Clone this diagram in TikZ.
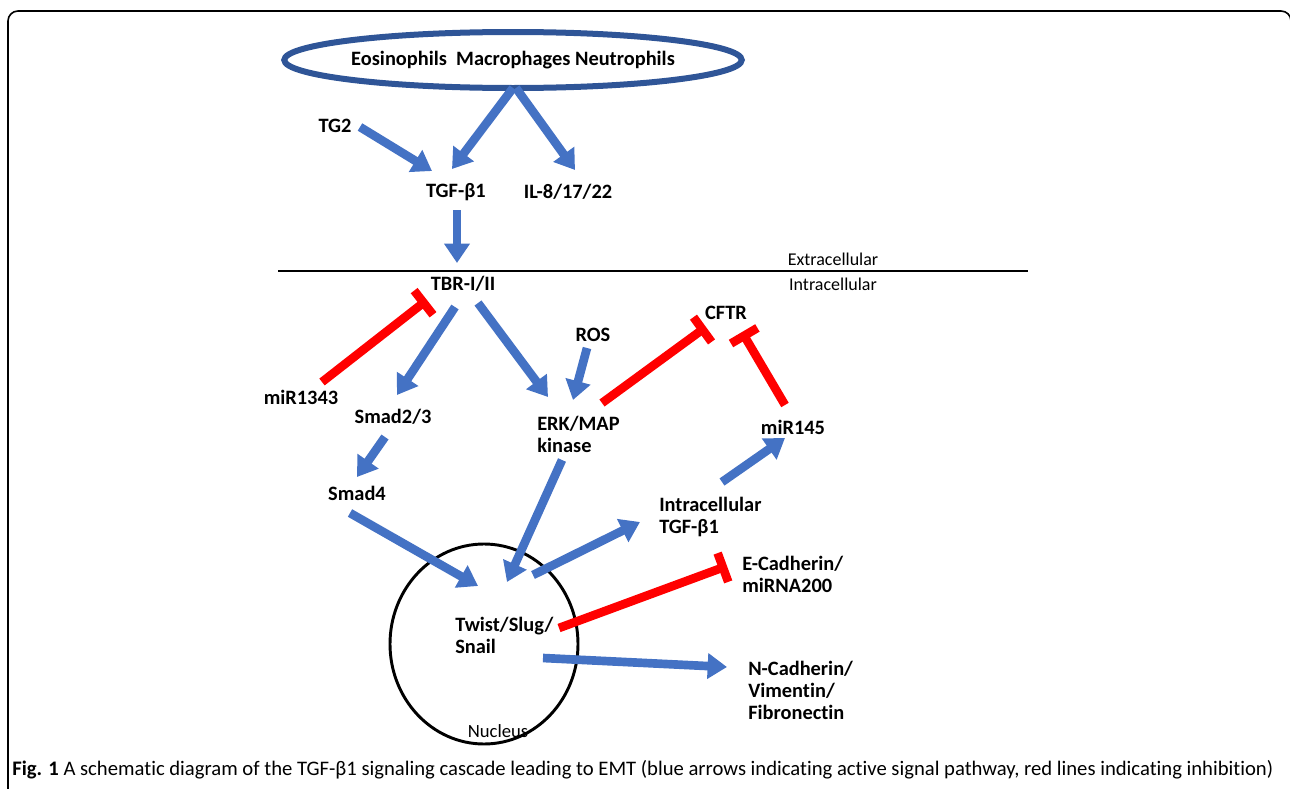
\documentclass[tikz,border=0pt]{standalone}
\usepackage{fontspec}
\setmainfont{Carlito}[Ligatures=NoCommon]
\usetikzlibrary{arrows.meta,shapes.geometric}
\definecolor{arrblue}{RGB}{68,114,196}
\definecolor{ellblue}{RGB}{47,85,151}
\definecolor{inhred}{RGB}{255,0,0}
\tikzset{
 lbl/.style={font=\bfseries\fontsize{15.3}{16.5}\selectfont, inner sep=0pt, align=center},
 lbll/.style={font=\bfseries\fontsize{15.3}{16.5}\selectfont, inner sep=0pt, align=left, anchor=west},
 smalllbl/.style={font=\fontsize{13.5}{16}\selectfont, inner sep=0pt},
 act/.style={arrblue, line width=6.5pt, -{Triangle[width=18.5pt,length=14.5pt]}},
 inh/.style={inhred, line width=6.5pt, -{Bar[width=23pt]}},
}
\begin{document}
\begin{tikzpicture}[x=0.75pt,y=-0.75pt]
\useasboundingbox (0,0) rectangle (1290,789);
% frame
\draw[line width=1.2pt, rounded corners=7.5pt] (8,800) -- (8,11) -- (1291,11) -- (1291,800);
% top ellipse
\node[draw=ellblue, line width=4.5pt, ellipse, minimum width=274.5pt, minimum height=42pt, inner sep=0pt,
  font=\bfseries\fontsize{15.3}{16.5}\selectfont] (cells) at (513,60) {Eosinophils\ \ Macrophages Neutrophils};
\node[lbl] (tg2) at (335,126) {TG2};
\node[lbl] (tgf) at (456,192) {TGF-β1};
\node[lbl] (il) at (568,192) {IL-8/17/22};
\node[lbl] (tbr) at (463,284) {TBR-I/II};
\node[smalllbl] (extra) at (833,259) {Extracellular};
\node[smalllbl] (intra) at (833,284) {Intracellular};
\draw[line width=0.8pt] (278,271) -- (1028,271);
\node[lbl] (mir1343) at (301,397) {miR1343};
\node[lbl] (smad23) at (393,417) {Smad2/3};
\node[lbl] (ros) at (593,335) {ROS};
\node[lbll] (erk) at (537,434) {ERK/MAP\\kinase};
\node[lbl] (cftr) at (726,313) {CFTR};
\node[lbl] (mir145) at (793,427) {miR145};
\node[lbl] (smad4) at (357,493) {Smad4};
\node[lbll] (itgf) at (659,517) {Intracellular\\TGF-β1};
\node[lbll] (ecad) at (742,574) {E-Cadherin/\\miRNA200};
\node[lbll] (ncad) at (748,690) {N-Cadherin/\\Vimentin/\\Fibronectin};
% nucleus
\node[draw, line width=2.2pt, ellipse, minimum width=141pt, minimum height=150pt, inner sep=0pt] (nucleus) at (484,644) {};
\node[lbll] (twist) at (455,635) {Twist/Slug/\\Snail};
\node[font=\fontsize{14}{16}\selectfont, inner sep=0pt] (nuclbl) at (498,731) {Nucleus};
% connector end points
\coordinate (c1s) at (513,88);  \coordinate (c1e) at (452,169);
\coordinate (c2s) at (516,88);  \coordinate (c2e) at (575,170);
\coordinate (c3s) at (360,127); \coordinate (c3e) at (432,171);
\coordinate (c4s) at (457,210); \coordinate (c4e) at (457,263);
\coordinate (r1s) at (322,382); \coordinate (r1e) at (427,300);
\coordinate (c5s) at (455,307); \coordinate (c5e) at (397,395);
\coordinate (c6s) at (478,303); \coordinate (c6e) at (548,397);
\coordinate (c7s) at (587,348); \coordinate (c7e) at (573,400);
\coordinate (r2s) at (602,403); \coordinate (r2e) at (706,327);
\coordinate (r3s) at (785,405); \coordinate (r3e) at (742,332);
\coordinate (c8s) at (722,482); \coordinate (c8e) at (785,438);
\coordinate (c9s) at (385,437); \coordinate (c9e) at (357,477);
\coordinate (c10s) at (350,513); \coordinate (c10e) at (478,586);
\coordinate (c11s) at (562,460); \coordinate (c11e) at (507,582);
\coordinate (c12s) at (533,575); \coordinate (c12e) at (640,522);
\coordinate (r4s) at (559,628); \coordinate (r4e) at (727,566);
\coordinate (c13s) at (543,658); \coordinate (c13e) at (727,667);
% connectors
\draw[act] (c1s) -- (c1e);
\draw[act] (c2s) -- (c2e);
\draw[act] (c3s) -- (c3e);
\draw[act] (c4s) -- (c4e);
\draw[inh] (r1s) -- (r1e);
\draw[act] (c5s) -- (c5e);
\draw[act] (c6s) -- (c6e);
\draw[act] (c7s) -- (c7e);
\draw[inh] (r2s) -- (r2e);
\draw[inh] (r3s) -- (r3e);
\draw[act] (c8s) -- (c8e);
\draw[act] (c9s) -- (c9e);
\draw[act] (c10s) -- (c10e);
\draw[act] (c11s) -- (c11e);
\draw[act] (c12s) -- (c12e);
\draw[inh] (r4s) -- (r4e);
\draw[act] (c13s) -- (c13e);
% caption
\node[anchor=west, inner sep=0pt, font=\fontsize{15.5}{17}\selectfont] (caption) at (12,770)
 {\textbf{Fig. 1} A schematic diagram of the TGF-β1 signaling cascade leading to EMT (blue arrows indicating active signal pathway, red lines indicating inhibition)};
\end{tikzpicture}
\end{document}
